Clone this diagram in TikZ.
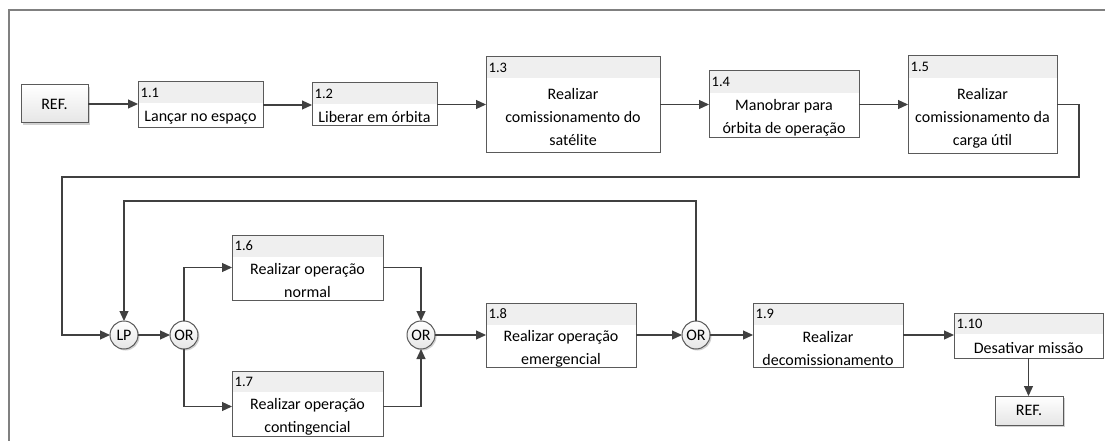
\documentclass[tikz,border=0pt]{standalone}
\usepackage{fontspec}
\setmainfont{Carlito}
\usetikzlibrary{arrows.meta,calc,shadows}

\definecolor{lncol}{HTML}{404040}
\definecolor{bdcol}{HTML}{5A5A5A}
\definecolor{hdcol}{HTML}{EFEFEF}
\definecolor{frcol}{HTML}{808080}

\tikzset{
  conn/.style={draw=lncol, line width=1.2pt},
  connarr/.style={draw=lncol, line width=1.2pt, -{Triangle[length=10pt,width=9pt]}},
  boxline/.style={draw=bdcol, line width=1pt},
  bodytxt/.style={font=\fontsize{16}{23}\selectfont, align=center, inner sep=0pt},
  numtxt/.style={font=\fontsize{14.5}{16}\selectfont, anchor=west, inner sep=0pt},
  gate/.style={circle, minimum size=28pt, inner sep=0pt, outer sep=0pt, draw=bdcol, line width=1pt,
    top color=white, bottom color=black!10, font=\fontsize{16}{18}\selectfont,
    drop shadow={shadow xshift=1.5pt, shadow yshift=-1.5pt, fill=black!30, opacity=0.6}},
  refbox/.style={rectangle, inner sep=0pt, outer sep=0pt, draw=bdcol, line width=1pt,
    top color=white, bottom color=black!10, font=\fontsize{16}{18}\selectfont,
    drop shadow={shadow xshift=2pt, shadow yshift=-2pt, fill=black!30, opacity=0.6}},
}

% name, x1, y1, x2, y2, header bottom, number, text
\newcommand{\fnbox}[8]{%
  \node[fill=white, inner sep=0pt, outer sep=0pt,
        minimum width={(#4-#2)*1pt}, minimum height={(#5-#3)*1pt}]
        (#1) at ({(#2+#4)/2},{(#3+#5)/2}) {};
  \fill[hdcol] (#2,#3) rectangle (#4,#6);
  \draw[boxline] (#1.north west) rectangle (#1.south east);
  \node[numtxt] at ({#2+2.5},{(#3+#6)/2}) {#7};
  \node[bodytxt] at ({(#2+#4)/2},{(#6+#5)/2+2.5}) {#8};
}

\begin{document}
\begin{tikzpicture}[x=1pt, y=-1pt]
\useasboundingbox (0,0) rectangle (1105,441);

% frame
\draw[frcol, line width=1.3pt] (9,441) -- (9,10) -- (1105,10);

% REF boxes
\node[refbox, minimum width=67pt, minimum height=38pt] (ref1) at (54.5,104) {REF.};
\node[refbox, minimum width=68pt, minimum height=29pt] (ref2) at (1029,410.5) {REF.};

% function boxes
\fnbox{f11}{138}{82}{263}{128}{103}{1.1}{Lançar no espaço}
\fnbox{f12}{312}{83}{437}{126}{104}{1.2}{Liberar em órbita}
\fnbox{f13}{486}{57}{660}{152}{78}{1.3}{Realizar\\comissionamento do\\satélite}
\fnbox{f14}{709}{71}{859}{138}{93}{1.4}{Manobrar para\\órbita de operação}
\fnbox{f15}{908}{56}{1057}{153}{78}{1.5}{Realizar\\comissionamento da\\carga útil}
\fnbox{f16}{232}{235}{383}{300}{257}{1.6}{Realizar operação\\normal}
\fnbox{f17}{232}{371}{383}{436}{392}{1.7}{Realizar operação\\contingencial}
\fnbox{f18}{486}{303}{636}{367}{325}{1.8}{Realizar operação\\emergencial}
\fnbox{f19}{753}{303}{903}{367}{325}{1.9}{Realizar\\decomissionamento}
\fnbox{f110}{954}{313}{1103}{358}{334}{1.10}{Desativar missão}

% gates
\node[gate] (lp) at (124,335) {LP};
\node[gate] (or1) at (184,335) {OR};
\node[gate] (or2) at (421,335) {OR};
\node[gate] (or3) at (696,335) {OR};

% helper coordinates
\coordinate (c1) at (1079,177);
\coordinate (c2) at (62,177);
\coordinate (c3) at (696,201);

% connectors, top row
\draw[connarr] (ref1.east) -- (ref1.east -| f11.west);
\draw[connarr] (f11.east) -- (f11.east -| f12.west);
\draw[connarr] (f12.east) -- (f12.east -| f13.west);
\draw[connarr] (f13.east) -- (f13.east -| f14.west);
\draw[connarr] (f14.east) -- (f14.east -| f15.west);
\draw[connarr] (f15.east) -| (c1) -- (c2) |- (lp.west);

% second row
\draw[connarr] (lp.east) -- (or1.west);
\draw[connarr] (or1.north) |- (f16.west);
\draw[connarr] (or1.south) |- ([yshift=-3pt]f17.west);
\draw[connarr] (f16.east) -| (or2.north);
\draw[connarr] ([yshift=-3pt]f17.east) -| (or2.south);
\draw[connarr] (or2.east) -- (f18.west);
\draw[connarr] (f18.east) -- (or3.west);
\draw[connarr] (or3.north) -- (c3) -| (lp.north);
\draw[connarr] (or3.east) -- (f19.west);
\draw[connarr] (f19.east) -- (f19.east -| f110.west);
\draw[connarr] (f110.south) -- (f110.south |- ref2.north);
\end{tikzpicture}
\end{document}
